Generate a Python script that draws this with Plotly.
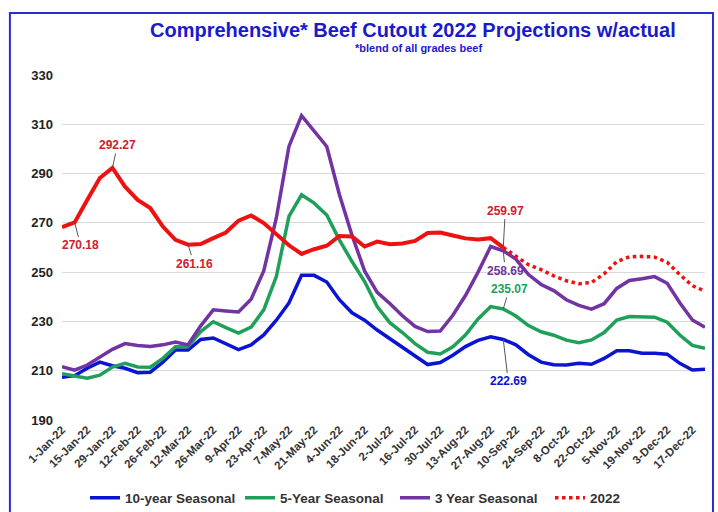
import pandas as pd
import plotly.graph_objects as go

# ---- data ----
weeks = [f"{d.day}-{d.strftime('%b-%y')}" for d in pd.date_range("2022-01-01", periods=52, freq="7D")]

ten_year = [207.3, 208.0, 211.0, 213.5, 212.0, 211.0, 209.2, 209.4, 213.5, 218.4,
            218.4, 222.7, 223.3, 221.0, 218.6, 220.5, 224.5, 230.5, 237.5, 248.7,
            248.7, 246.0, 238.8, 233.5, 230.5, 226.5, 223.0, 219.5, 215.8, 212.5,
            213.3, 216.3, 219.8, 222.3, 223.8, 222.69, 220.5, 216.5, 213.5, 212.4,
            212.3, 213.0, 212.6, 215.0, 218.1, 218.1, 217.1, 217.1, 216.7, 213.0,
            210.3, 210.6]
five_year = [208.8, 208.0, 207.0, 208.2, 211.5, 213.0, 211.5, 211.4, 215.0, 219.7,
             219.8, 225.9, 229.9, 227.5, 225.3, 227.7, 234.7, 248.2, 272.6, 281.4,
             278.0, 273.2, 263.1, 254.3, 246.2, 236.0, 229.5, 225.5, 221.0, 217.5,
             216.8, 219.7, 224.5, 231.0, 236.0, 235.07, 232.2, 228.3, 225.8, 224.4,
             222.4, 221.4, 222.5, 225.5, 230.6, 232.0, 231.7, 231.7, 229.7, 224.5,
             220.3, 219.1]
three_year = [211.6, 210.2, 212.3, 215.4, 218.7, 221.0, 220.2, 219.8, 220.5, 221.6,
              220.5, 228.2, 234.7, 234.2, 233.8, 239.0, 250.5, 272.0, 301.0, 313.5,
              307.0, 301.0, 281.5, 265.0, 250.5, 241.8, 237.3, 232.3, 228.0, 225.9,
              226.1, 232.5, 240.5, 250.0, 260.4, 258.69, 255.3, 249.0, 245.0, 242.5,
              238.8, 236.5, 235.0, 237.2, 243.4, 246.6, 247.3, 248.2, 245.5, 237.6,
              230.6, 227.6]
actual_2022 = [268.3, 270.18, 279.3, 288.2, 292.27, 284.7, 279.3, 276.0, 268.5, 263.1,
               261.16, 261.4, 263.8, 266.1, 270.9, 273.0, 269.9, 265.3, 260.9, 257.4,
               259.3, 260.7, 264.7, 264.5, 260.4, 262.4, 261.3, 261.6, 262.7, 265.9,
               266.1, 264.9, 263.7, 263.3, 263.8, 259.97]
proj_2022 = [259.97, 256.5, 253.0, 251.0, 248.5, 246.5, 245.3, 245.8, 249.3, 254.3,
             256.2, 256.4, 256.1, 254.0, 249.0, 244.5, 242.3]

y_ticks = [190, 210, 230, 250, 270, 290, 310, 330]

BLUE = "#0A14D2"
GREEN = "#1FA05A"
PURPLE = "#7233A3"
RED = "#EE1111"
FONT = "Liberation Sans, Arial, sans-serif"

last = len(actual_2022) - 1
proj_x = weeks[last:last + len(proj_2022)]

fig = go.Figure()
fig.add_trace(go.Scatter(x=weeks, y=ten_year, name="10-year Seasonal", mode="lines",
                         line=dict(color=BLUE, width=3.5)))
fig.add_trace(go.Scatter(x=weeks, y=five_year, name="5-Year Seasonal", mode="lines",
                         line=dict(color=GREEN, width=3.5)))
fig.add_trace(go.Scatter(x=weeks, y=three_year, name="3 Year Seasonal", mode="lines",
                         line=dict(color=PURPLE, width=3.5)))
fig.add_trace(go.Scatter(x=weeks[:len(actual_2022)], y=actual_2022, name="2022 actual",
                         mode="lines", showlegend=False, line=dict(color=RED, width=4)))
fig.add_trace(go.Scatter(x=proj_x, y=proj_2022, name="2022", mode="lines",
                         line=dict(color=RED, width=3.5, dash="dot")))

def label(idx, series, color, ax, ay):
    fig.add_annotation(x=weeks[idx], y=series[idx], text=f"{series[idx]:.2f}",
                       showarrow=True, arrowhead=0, arrowwidth=1, arrowcolor="#555555",
                       ax=ax, ay=ay, font=dict(family=FONT, size=12, color=color, weight="bold"))

label(1, actual_2022, "#D0202A", 6, 23)
label(4, actual_2022, "#D0202A", 5, -23)
label(10, actual_2022, "#D0202A", 6, 19)
label(last, actual_2022, "#D0202A", 2, -37)
label(last, three_year, PURPLE, 2, 20)
label(last, five_year, GREEN, 6, -20)
label(last, ten_year, BLUE, 5, 42)

fig.add_annotation(xref="paper", yref="paper", x=0.554, y=1.078, yanchor="middle",
                   showarrow=False, text="*blend of all grades beef",
                   font=dict(family=FONT, size=11, color="#1A1ACC", weight="bold"))

fig.add_shape(type="rect", xref="paper", yref="paper", x0=-0.081, x1=1.0124, y0=-0.3, y1=1.18,
              line=dict(color="#2B2BD6", width=2), fillcolor="rgba(0,0,0,0)", layer="below")

fig.update_layout(
    width=718, height=512,
    margin=dict(l=62, r=13, t=75, b=92, autoexpand=False),
    paper_bgcolor="white", plot_bgcolor="white",
    title=dict(text="Comprehensive* Beef Cutout 2022 Projections w/actual",
               xref="container", yref="container", x=0.575, y=1 - 30 / 512,
               xanchor="center", yanchor="middle",
               font=dict(family=FONT, size=20, color="#1A1ACC", weight="bold")),
    showlegend=True,
    legend=dict(orientation="h", xref="container", yref="container",
                x=85 / 718, xanchor="left", y=1 - 498 / 512, yanchor="middle",
                font=dict(family=FONT, size=13.5, color="#333333", weight="bold"),
                itemwidth=30, entrywidth=110, entrywidthmode="pixels",
                bgcolor="rgba(0,0,0,0)"),
    xaxis=dict(type="category", range=[0, len(weeks) - 1], tickvals=weeks[::2],
               tickangle=-45, showgrid=False, zeroline=False, showline=False, ticks="",
               automargin=False,
               tickfont=dict(family=FONT, size=11.5, color="#333333", weight="bold")),
    yaxis=dict(range=[y_ticks[0], y_ticks[-1]], tickvals=y_ticks, showgrid=True,
               gridcolor="#D9D9D9", gridwidth=1, zeroline=False, showline=False, ticks="",
               ticklabelstandoff=8, automargin=False,
               tickfont=dict(family=FONT, size=13, color="#222222", weight="bold")),
)

fig.write_html("out.html")
